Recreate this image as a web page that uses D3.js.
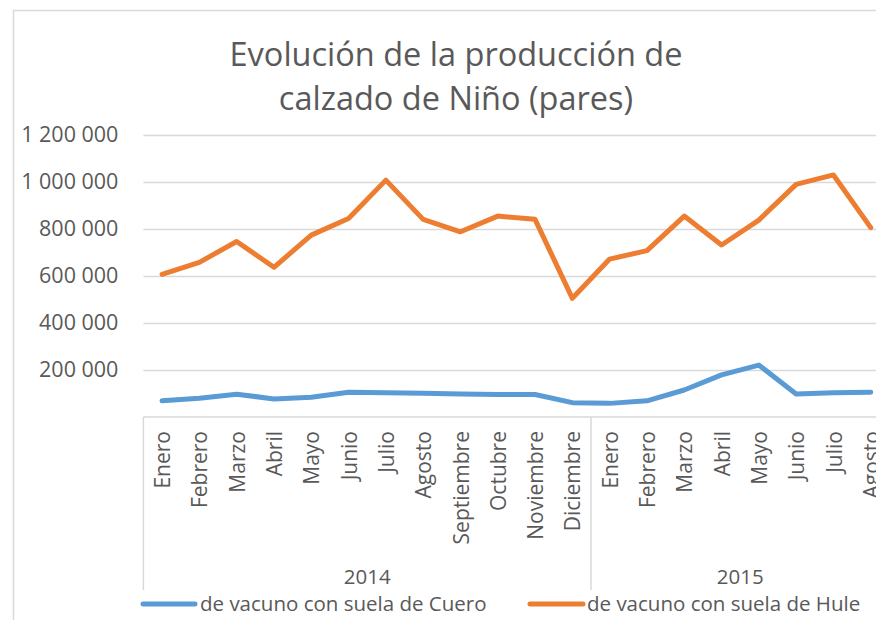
<!DOCTYPE html>
<html>
<head>
<meta charset="utf-8">
<script src="https://cdn.jsdelivr.net/npm/d3@7"></script>
<style>
  html, body { margin: 0; padding: 0; background: #fff; }
  svg { display: block; font-family: "Open Sans", "Noto Sans", sans-serif; }
</style>
</head>
<body>
<svg id="chart" width="876" height="620"></svg>
<script>
// ---- data ----
const titleLines = ["Evolución de la producción de", "calzado de Niño (pares)"];
const years = ["2014", "2015"];
const months2014 = ["Enero","Febrero","Marzo","Abril","Mayo","Junio","Julio","Agosto","Septiembre","Octubre","Noviembre","Diciembre"];
const months2015 = ["Enero","Febrero","Marzo","Abril","Mayo","Junio","Julio","Agosto"];
const seriesNames = ["de vacuno con suela de Cuero", "de vacuno con suela de Hule"];
const cuero = [69000, 80000, 97000, 77000, 84000, 105000, 103000, 101000, 98000, 96000, 96000, 61000,
               58000, 69000, 115000, 179000, 221000, 98000, 103000, 105000];
const hule = [607000, 658000, 747000, 637000, 774000, 845000, 1008000, 841000, 788000, 855000, 841000, 505000,
              672000, 708000, 855000, 732000, 838000, 990000, 1030000, 806000];
const yTicks = [200000, 400000, 600000, 800000, 1000000, 1200000];
const colors = ["#5B9BD5", "#ED7D31"];

(function () {
// ---- build categories ----
const cats = [];
months2014.forEach(m => cats.push({ key: "2014-" + m, month: m, year: "2014" }));
months2015.forEach(m => cats.push({ key: "2015-" + m, month: m, year: "2015" }));
const monthOf = new Map(cats.map(c => [c.key, c.month]));

const svg = d3.select("#chart");
const textColor = "#595959";
const gridColor = "#d9d9d9";

const pLeft = 143.4, pRight = 889.4, pTop = 135, pBottom = 417;

const x = d3.scalePoint().domain(cats.map(c => c.key)).range([pLeft, pRight]).padding(0.5);
const step = x.step();
const y = d3.scaleLinear().domain([0, 1200000]).range([pBottom, pTop]);

// chart border (top + left visible)
svg.append("rect")
  .attr("x", 13.5).attr("y", 10.5).attr("width", 900).attr("height", 700)
  .attr("fill", "none").attr("stroke", gridColor).attr("stroke-width", 1.5);

// title
svg.append("g").selectAll("text").data(titleLines).join("text")
  .attr("x", 456).attr("y", (d, i) => 66 + i * 44)
  .attr("text-anchor", "middle")
  .attr("font-size", 32.5)
  .attr("fill", textColor)
  .text(d => d);

// gridlines
const grid = svg.append("g").attr("transform", `translate(${pLeft},0)`)
  .call(d3.axisLeft(y).tickValues(yTicks).tickSize(-(pRight - pLeft)).tickFormat(""));
grid.select(".domain").remove();
grid.selectAll(".tick line").attr("stroke", gridColor).attr("stroke-width", 1.5);

// y axis labels
const fmt = d3.formatLocale({ decimal: ",", thousands: " ", grouping: [3], currency: ["", ""] }).format(",d");
const yAxis = svg.append("g").attr("transform", `translate(${pLeft},0)`)
  .call(d3.axisLeft(y).tickValues(yTicks).tickSize(0).tickPadding(25).tickFormat(fmt));
yAxis.select(".domain").remove();
yAxis.selectAll("text").attr("font-size", 21.5).attr("fill", textColor)
  .attr("font-family", "'Open Sans', sans-serif");

// category axis box
const boxBottom = 590;
const sepX = pLeft + months2014.length * step;
const box = svg.append("g").attr("stroke", gridColor).attr("stroke-width", 1.5);
box.append("line").attr("x1", pLeft).attr("x2", 900).attr("y1", pBottom).attr("y2", pBottom);
box.append("line").attr("x1", pLeft).attr("x2", pLeft).attr("y1", pBottom).attr("y2", boxBottom);
box.append("line").attr("x1", sepX).attr("x2", sepX).attr("y1", pBottom).attr("y2", boxBottom);
box.append("line").attr("x1", pRight).attr("x2", pRight).attr("y1", pBottom).attr("y2", boxBottom);

// month labels
const xAxis = svg.append("g").attr("transform", `translate(0,${pBottom})`)
  .call(d3.axisBottom(x).tickSize(0).tickFormat(k => monthOf.get(k)));
xAxis.select(".domain").remove();
xAxis.selectAll("text")
  .attr("transform", "rotate(-90)")
  .attr("text-anchor", "end")
  .attr("x", -14).attr("y", 0).attr("dy", "0.36em")
  .attr("font-size", 21).attr("fill", textColor)
  .attr("font-family", "'Open Sans', sans-serif");

// year labels
const yearSpan = { "2014": [pLeft, sepX], "2015": [sepX, pRight] };
svg.append("g").selectAll("text").data(years).join("text")
  .attr("x", d => (yearSpan[d][0] + yearSpan[d][1]) / 2)
  .attr("y", 584)
  .attr("text-anchor", "middle")
  .attr("font-size", 20.5).attr("fill", textColor)
  .text(d => d);

// lines
const line = d3.line().x((d, i) => x(cats[i].key)).y(d => y(d));
[cuero, hule].forEach((s, i) => {
  svg.append("path").datum(s)
    .attr("d", line)
    .attr("fill", "none")
    .attr("stroke", colors[i])
    .attr("stroke-width", 5)
    .attr("stroke-linejoin", "round")
    .attr("stroke-linecap", "round");
});

// legend
const legendY = 604;
const legendItems = [{ x1: 143, x2: 195, tx: 200 }, { x1: 530, x2: 583, tx: 587 }];
const lg = svg.append("g");
legendItems.forEach((it, i) => {
  lg.append("line").attr("x1", it.x1).attr("x2", it.x2).attr("y1", legendY).attr("y2", legendY)
    .attr("stroke", colors[i]).attr("stroke-width", 5).attr("stroke-linecap", "round");
  lg.append("text").attr("x", it.tx).attr("y", legendY).attr("dy", "0.36em")
    .attr("font-size", 20.5).attr("fill", textColor).text(seriesNames[i]);
});
})();
</script>
</body>
</html>
